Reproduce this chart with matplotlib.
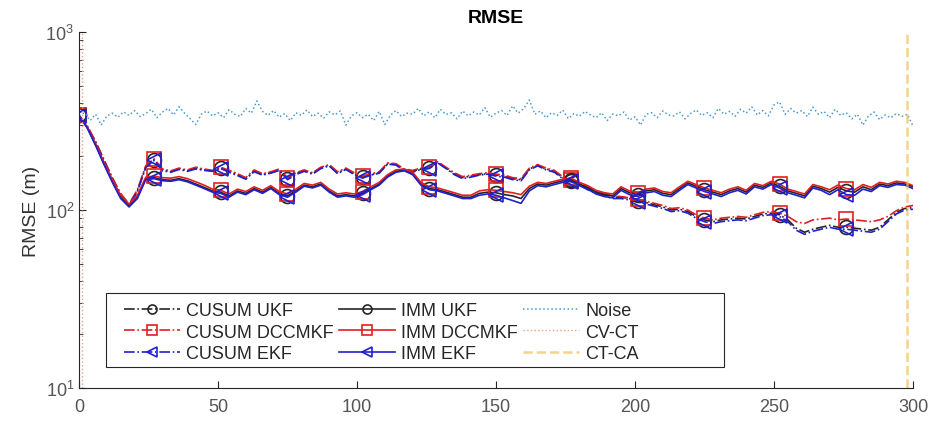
"""RMSE over time for CUSUM / IMM trackers (log scale)."""

import matplotlib
import matplotlib.pyplot as plt
import numpy as np
from matplotlib.patches import Rectangle

matplotlib.use("Agg")

plt.rcParams["font.family"] = ["Liberation Sans", "DejaVu Sans"]

# time grids (filter curves sampled every 3 steps, noise every 2 steps)
t = np.arange(0, 301, 3)
t_noise = np.arange(0, 301, 2)
marker_times = [1, 26, 51, 76, 101, 126, 151, 176, 201, 226, 251, 276]
switch_times = [1, 298]  # CV-CT, CT-CA

cusum_ukf = [
    340, 295, 240, 190, 150, 122, 107, 128, 175, 192,
    168, 164, 170, 166, 172, 168, 166, 172, 165, 158,
    150, 166, 158, 162, 168, 150, 160, 166, 160, 172,
    178, 162, 170, 160, 153, 158, 162, 182, 180, 168,
    165, 170, 172, 185, 172, 160, 152, 155, 158, 160,
    157, 155, 150, 148, 170, 178, 170, 165, 152, 146,
    140, 132, 126, 122, 118, 118, 116, 113, 110, 107,
    104, 100, 101, 98, 92, 88, 86, 88, 89, 90,
    89, 92, 95, 96, 94, 88, 79, 75, 78, 80,
    82, 80, 80, 79, 78, 77, 80, 88, 97, 102,
    103]
cusum_dccmkf = [
    340, 296, 242, 192, 152, 124, 108, 130, 177, 194,
    170, 166, 172, 168, 174, 170, 167, 174, 167, 160,
    152, 168, 160, 164, 170, 152, 162, 168, 162, 174,
    180, 164, 172, 162, 155, 160, 164, 184, 182, 170,
    167, 172, 174, 187, 174, 162, 154, 157, 160, 162,
    159, 157, 152, 150, 172, 180, 172, 167, 154, 148,
    142, 134, 128, 124, 120, 119, 117, 115, 112, 109,
    106, 102, 103, 100, 94, 90, 88, 90, 91, 92,
    91, 94, 97, 98, 96, 92, 86, 84, 88, 89,
    90, 88, 89, 88, 87, 86, 88, 92, 99, 104,
    106]
cusum_ekf = [
    338, 292, 238, 188, 149, 121, 106, 127, 173, 190,
    166, 163, 169, 165, 170, 167, 165, 171, 163, 156,
    149, 164, 157, 161, 167, 148, 158, 165, 159, 171,
    177, 160, 169, 158, 151, 157, 161, 181, 179, 166,
    163, 169, 171, 184, 171, 158, 150, 153, 157, 159,
    155, 153, 148, 146, 168, 177, 168, 163, 150, 144,
    138, 130, 124, 120, 116, 116, 114, 111, 108, 105,
    102, 98, 99, 96, 90, 86, 84, 86, 87, 88,
    87, 90, 93, 94, 92, 86, 77, 73, 76, 78,
    80, 78, 78, 77, 76, 75, 78, 86, 95, 100,
    101]
imm_ukf = [
    340, 290, 232, 182, 145, 118, 106, 118, 150, 152,
    148, 147, 150, 146, 140, 134, 128, 126, 120, 128,
    124, 132, 126, 134, 124, 120, 128, 138, 135, 140,
    128, 120, 122, 120, 124, 132, 140, 155, 165, 168,
    160, 140, 132, 130, 126, 122, 118, 118, 124, 126,
    125, 122, 120, 116, 132, 140, 138, 142, 146, 148,
    140, 134, 126, 122, 120, 132, 125, 122, 128, 130,
    124, 122, 132, 142, 136, 130, 126, 122, 128, 132,
    126, 138, 134, 142, 136, 128, 124, 120, 136, 132,
    126, 134, 128, 126, 135, 130, 140, 137, 142, 140,
    135]
imm_dccmkf = [
    340, 292, 235, 185, 148, 121, 108, 121, 153, 155,
    152, 151, 154, 150, 144, 138, 131, 129, 123, 131,
    127, 135, 129, 137, 127, 123, 131, 141, 138, 143,
    131, 123, 125, 123, 127, 135, 143, 158, 168, 170,
    163, 143, 135, 133, 129, 125, 121, 121, 128, 130,
    129, 127, 125, 122, 136, 143, 141, 145, 149, 151,
    143, 137, 129, 125, 123, 135, 128, 125, 131, 133,
    127, 125, 135, 145, 139, 133, 129, 125, 131, 135,
    129, 141, 137, 145, 140, 131, 127, 123, 139, 135,
    130, 138, 132, 130, 139, 134, 143, 140, 145, 143,
    137]
imm_ekf = [
    338, 288, 230, 180, 143, 116, 104, 116, 148, 150,
    146, 145, 148, 144, 138, 132, 126, 124, 118, 126,
    122, 130, 124, 132, 122, 118, 126, 136, 133, 138,
    126, 118, 120, 118, 122, 130, 138, 153, 163, 166,
    158, 138, 130, 128, 124, 120, 116, 116, 121, 123,
    121, 117, 113, 109, 128, 137, 135, 139, 143, 145,
    137, 131, 123, 119, 117, 129, 122, 119, 125, 127,
    121, 119, 129, 139, 133, 127, 123, 119, 125, 129,
    123, 135, 131, 139, 133, 125, 121, 117, 133, 129,
    122, 130, 122, 121, 131, 127, 137, 134, 139, 138,
    132]
noise = [
    340, 352, 318, 345, 300, 338, 350, 332, 356, 340,
    362, 335, 348, 368, 330, 355, 372, 342, 380, 350,
    326, 302, 345, 360, 338, 352, 330, 366, 345, 335,
    372, 350, 410, 358, 340, 362, 332, 348, 318, 352,
    340, 365, 335, 350, 328, 356, 342, 360, 300, 338,
    352, 330, 345, 318, 358, 302, 340, 362, 335, 350,
    345, 372, 338, 356, 330, 368, 344, 352, 325, 360,
    338, 355, 342, 376, 332, 350, 362, 340, 385, 350,
    372, 415, 345, 360, 330, 352, 340, 364, 326, 348,
    336, 358, 342, 330, 352, 318, 346, 338, 355, 320,
    334, 300, 345, 352, 330, 360, 342, 338, 356, 325,
    348, 365, 340, 352, 330, 372, 345, 358, 336, 368,
    350, 380, 342, 362, 338, 390, 405, 345, 372, 350,
    362, 335, 378, 345, 358, 330, 368, 340, 352, 325,
    345, 300, 338, 355, 322, 342, 330, 348, 336, 345,
    296]

BLACK, RED, BLUE = "#262626", "#e02020", "#2020d0"

fig, ax = plt.subplots(figsize=(9.36, 4.27), dpi=100)
fig.subplots_adjust(left=0.0844, right=0.9754, bottom=0.089, top=0.9227)

mk = [int(round(m / 3)) for m in marker_times]
series = [
    ("CUSUM UKF", cusum_ukf, BLACK, "-.", "o"),
    ("CUSUM DCCMKF", cusum_dccmkf, RED, "-.", "s"),
    ("CUSUM EKF", cusum_ekf, BLUE, "-.", "<"),
    ("IMM UKF", imm_ukf, BLACK, "-", "o"),
    ("IMM DCCMKF", imm_dccmkf, RED, "-", "s"),
    ("IMM EKF", imm_ekf, BLUE, "-", "<"),
]

handles = []
for label, vals, col, ls, m in series:
    (h,) = ax.plot(t, vals, color=col, ls=ls, lw=1.2, marker=m, markevery=mk,
                   markersize=10, markerfacecolor="none", markeredgewidth=1.2,
                   label=label)
    handles.append(h)

(hn,) = ax.plot(t_noise, noise, color="#4a9ad0", ls=":", lw=1.1, label="Noise")
hv = ax.axvline(switch_times[0], color="#e8a27c", ls=":", lw=1.0, label="CV-CT")
hc = ax.axvline(switch_times[1], color="#f0c060", ls="--", lw=1.8, alpha=0.7,
                label="CT-CA")
handles += [hn, hv, hc]

ax.set_yscale("log")
ax.set_ylim(10, 1000)
ax.set_xlim(0, 300)
ax.set_xticks(np.arange(0, 301, 50))
ax.spines["top"].set_visible(False)
ax.spines["right"].set_visible(False)
for s in ("left", "bottom"):
    ax.spines[s].set_color(BLACK)
    ax.spines[s].set_linewidth(0.8)
ax.tick_params(which="both", direction="in", colors=BLACK, labelcolor="#555555",
               labelsize=13)
ax.tick_params(which="major", length=5)
ax.tick_params(which="minor", length=3)
ax.tick_params(axis="x", pad=7)

ax.set_ylabel("RMSE (m)", fontsize=14, color="#333333", labelpad=4)
ax.set_title("RMSE", fontsize=14, fontweight="bold", pad=7)

# legend box (wider than its entries, as in the original figure)
box = Rectangle((0.0324, 0.059), 0.741, 0.208, transform=ax.transAxes,
                facecolor="white", edgecolor=BLACK, lw=0.8, zorder=4)
ax.add_patch(box)
leg = ax.legend(handles=handles, ncol=3, loc="upper left",
                bbox_to_anchor=(0.0468, 0.2586), frameon=False, fontsize=13,
                handlelength=3.1, handletextpad=0.33, columnspacing=0.3,
                labelspacing=0.25, borderaxespad=0, borderpad=0.35)
leg.set_zorder(5)
for txt in leg.get_texts():
    txt.set_color(BLACK)
for h in leg.legend_handles:
    h.set_markersize(6.5)

fig.savefig("out.png", dpi=100)
plt.close(fig)
